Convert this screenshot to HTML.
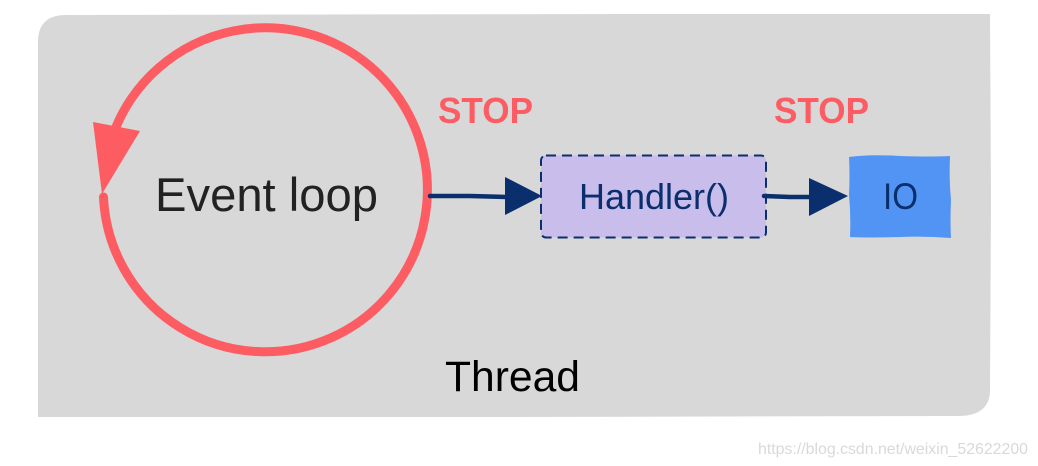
<!DOCTYPE html>
<html>
<head>
<meta charset="utf-8">
<style>
  html, body { margin: 0; padding: 0; background: #ffffff; }
  body { width: 1038px; height: 466px; overflow: hidden; }
  svg { display: block; }
</style>
</head>
<body>
<svg width="1038" height="466" viewBox="0 0 1038 466" xmlns="http://www.w3.org/2000/svg">
  <!-- Thread container -->
  <path d="M 38 42 Q 38 15 66 15 L 620 14 L 990 14 L 991 200 L 990 390 Q 990 416 958 416 L 500 417 L 38 417 Z" fill="#d8d8d8"/>

  <!-- Event loop circle -->
  <path d="M 116 127 A 162 162 0 1 1 103.5 197" fill="none" stroke="#fd5c63" stroke-width="9" stroke-linecap="round"/>
  <polygon points="93,122 140,131 102,194" fill="#fd5c63"/>

  <text x="155" y="211" font-family="'Liberation Sans', sans-serif" font-size="47" fill="#222222" textLength="223" lengthAdjust="spacingAndGlyphs">Event loop</text>

  <!-- STOP labels -->
  <text x="438" y="123" font-family="'Liberation Sans', sans-serif" font-weight="bold" font-size="36" fill="#fd5c63" textLength="95" lengthAdjust="spacingAndGlyphs">STOP</text>
  <text x="774" y="123" font-family="'Liberation Sans', sans-serif" font-weight="bold" font-size="36" fill="#fd5c63" textLength="95" lengthAdjust="spacingAndGlyphs">STOP</text>

  <!-- Arrow 1 -->
  <path d="M 430 196 L 470 196 L 507 197" fill="none" stroke="#0a2f6c" stroke-width="4.5" stroke-linecap="round"/>
  <polygon points="505,177 505,215 542,196" fill="#0a2f6c"/>

  <!-- Handler box -->
  <rect x="541" y="155.5" width="225" height="82" rx="5" ry="5" fill="#c9bdec" stroke="#0a2f6c" stroke-width="2" stroke-dasharray="10 6"/>
  <text x="579" y="209" font-family="'Liberation Sans', sans-serif" font-size="36" fill="#0a2f6c" textLength="150" lengthAdjust="spacingAndGlyphs">Handler()</text>

  <!-- Arrow 2 -->
  <path d="M 764 196 L 790 197 L 811 197" fill="none" stroke="#0a2f6c" stroke-width="4.5" stroke-linecap="round"/>
  <polygon points="809,178 809,216 848,196" fill="#0a2f6c"/>

  <!-- IO box -->
  <path d="M 849 157 Q 870 154 900 156 Q 930 157 950 156 Q 949 180 951 200 Q 950 222 951 238 Q 925 236 900 237 Q 870 238 850 237 Q 851 215 849 195 Q 850 175 849 157 Z" fill="#5294f4"/>
  <text x="883" y="209" font-family="'Liberation Sans', sans-serif" font-size="37" fill="#0a2f6c" textLength="35" lengthAdjust="spacingAndGlyphs">IO</text>

  <!-- Thread label -->
  <text x="445" y="391" font-family="'Liberation Sans', sans-serif" font-size="43" fill="#000000" textLength="135" lengthAdjust="spacingAndGlyphs">Thread</text>

  <!-- Watermark -->
  <text x="758" y="454" font-family="'Liberation Sans', sans-serif" font-size="16" fill="#d9d9d9" textLength="270" lengthAdjust="spacingAndGlyphs">https://blog.csdn.net/weixin_52622200</text>
</svg>
</body>
</html>
